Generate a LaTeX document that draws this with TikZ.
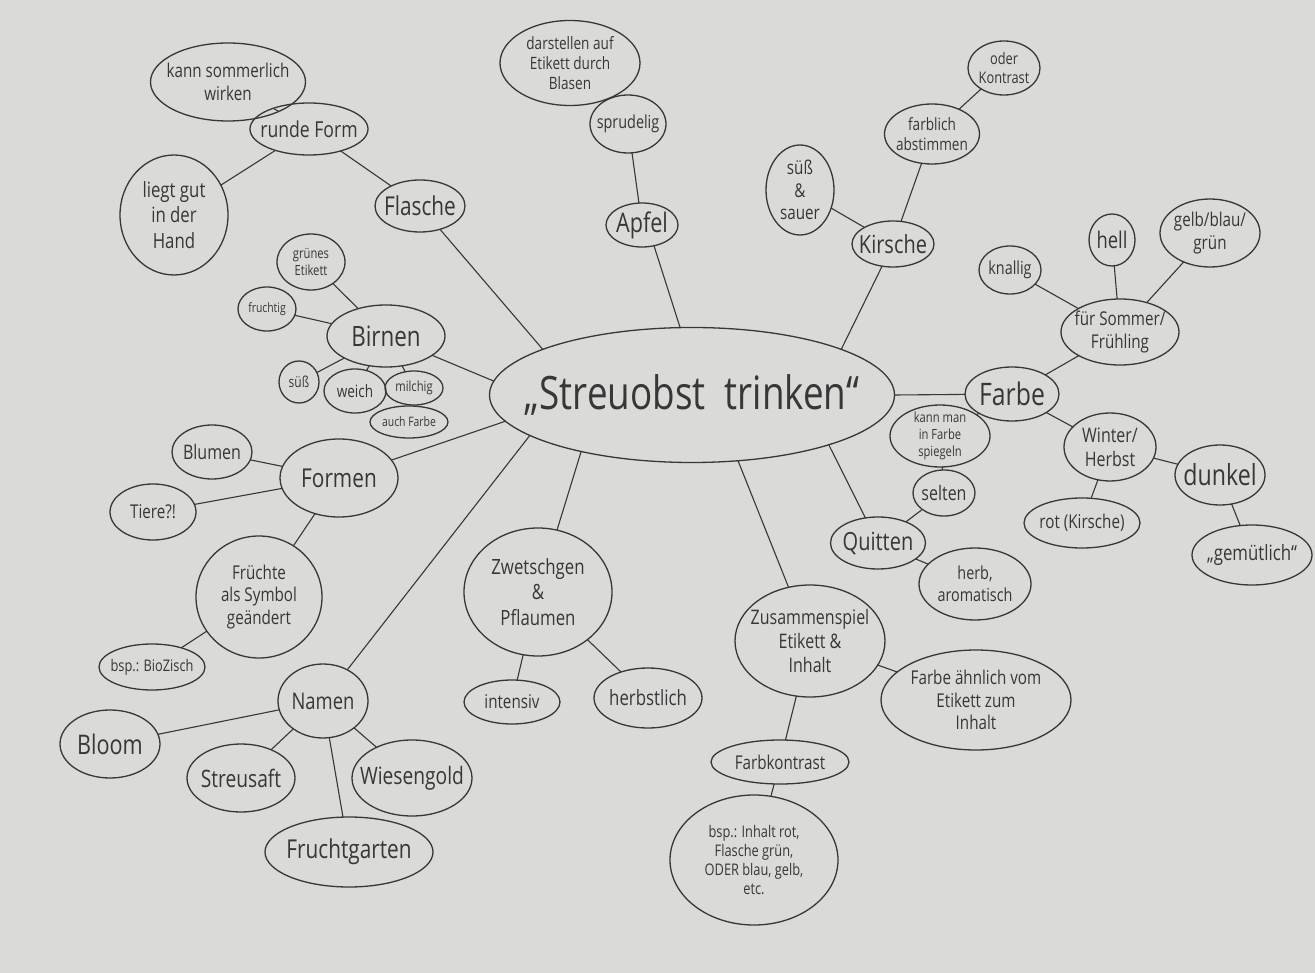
\documentclass[tikz,border=0pt]{standalone}
\usepackage{fontspec}
\setmainfont{Open Sans}[FakeStretch=0.8]
\usetikzlibrary{shapes.geometric}
\definecolor{paper}{RGB}{218,218,216}
\definecolor{ink}{RGB}{55,55,55}
\newcommand\fsz[1]{\fontsize{#1pt}{\the\dimexpr #1pt*6/5\relax}\selectfont}
\tikzset{
  bl/.style 2 args={draw=ink, line width=1.3pt, ellipse, minimum width=#1pt, minimum height=#2pt, inner sep=0pt, outer sep=0pt},
  tx/.style={font=\fsz{#1}, align=center, text=ink, inner sep=0pt},
  con/.style={draw=ink, line width=1.1pt},
}
\begin{document}
\begin{tikzpicture}[x=1pt,y=-1pt]
\fill[paper] (0,0) rectangle (1315,973);
\useasboundingbox (0,0) rectangle (1315,973);
% centre
\node[bl={405}{135}, label={[tx=46]center:{„Streuobst\ \ trinken“}}] (central) at (692,395) {};
% Flasche branch
\node[bl={90}{52}, label={[tx=26]center:{Flasche}}] (flasche) at (420,206) {};
\node[bl={118}{52}, label={[tx=22]center:{runde Form}}] (runde) at (309,129) {};
\node[bl={155}{78}, label={[tx=19]center:{kann sommerlich\\wirken}}] (sommerlich) at (228,82) {};
\node[bl={108}{120}, label={[tx=21]center:{liegt gut\\in der\\Hand}}] (liegt) at (174,215) {};
% Apfel branch
\node[bl={72}{44}, label={[tx=27]center:{Apfel}}] (apfel) at (642,225) {};
\node[bl={76}{58}, label={[tx=18]center:{sprudelig}}] (sprudelig) at (628,124) {};
\node[bl={140}{85}, label={[tx=17]center:{darstellen auf\\Etikett durch\\Blasen}}] (darstellen) at (570,63) {};
% Kirsche branch
\node[bl={82}{46}, label={[tx=25]center:{Kirsche}}] (kirsche) at (893,244) {};
\node[bl={68}{90}, label={[tx=19]center:{süß\\\&\\sauer}}] (suesssauer) at (800,190) {};
\node[bl={95}{60}, label={[tx=17]center:{farblich\\abstimmen}}] (farblich) at (932,134) {};
\node[bl={72}{54}, label={[tx=16]center:{oder\\Kontrast}}] (oder) at (1004,68) {};
% Farbe branch
\node[bl={94}{54}, label={[tx=31]center:{Farbe}}] (farbe) at (1012,394) {};
\node[bl={118}{66}, label={[tx=19]center:{für Sommer/\\Frühling}}] (sommer) at (1120,332) {};
\node[bl={62}{48}, label={[tx=18]center:{knallig}}] (knallig) at (1010,270) {};
\node[bl={46}{52}, label={[tx=23]center:{hell}}] (hell) at (1112,240) {};
\node[bl={100}{68}, label={[tx=19]center:{gelb/blau/\\grün}}] (gelb) at (1210,233) {};
\node[bl={92}{68}, label={[tx=20]center:{Winter/\\Herbst}}] (winter) at (1110,447) {};
\node[bl={116}{50}, label={[tx=19]center:{rot (Kirsche)}}] (rot) at (1082,523) {};
\node[bl={90}{60}, label={[tx=29]center:{dunkel}}] (dunkel) at (1220,475) {};
\node[bl={120}{60}, label={[tx=21]center:{„gemütlich“}}] (gemuetlich) at (1252,555) {};
\node[bl={100}{62}, label={[tx=14]center:{kann man\\in Farbe\\spiegeln}}] (kannman) at (940,436) {};
% Quitten branch
\node[bl={62}{46}, label={[tx=20]center:{selten}}] (selten) at (944,493) {};
\node[bl={95}{52}, label={[tx=25]center:{Quitten}}] (quitten) at (878,543) {};
\node[bl={112}{72}, label={[tx=18]center:{herb,\\aromatisch}}] (herb) at (975,584) {};
% Zusammenspiel branch
\node[bl={150}{112}, label={[tx=20]center:{Zusammenspiel\\Etikett \&\\Inhalt}}] (zusammen) at (810,641) {};
\node[bl={190}{100}, label={[tx=19]center:{Farbe ähnlich vom\\Etikett zum\\Inhalt}}] (aehnlich) at (976,700) {};
\node[bl={138}{44}, label={[tx=19]center:{Farbkontrast}}] (kontrast) at (780,762) {};
\node[bl={168}{130}, label={[tx=16]center:{bsp.: Inhalt rot,\\Flasche grün,\\ODER blau, gelb,\\etc.}}] (bsp) at (754,860) {};
% Zwetschgen branch
\node[bl={148}{128}, label={[tx=21]center:{Zwetschgen\\\&\\Pflaumen}}] (zwetschgen) at (538,592) {};
\node[bl={96}{44}, label={[tx=19]center:{intensiv}}] (intensiv) at (512,702) {};
\node[bl={108}{60}, label={[tx=21]center:{herbstlich}}] (herbstlich) at (648,698) {};
% Birnen branch
\node[bl={118}{62}, label={[tx=28]center:{Birnen}}] (birnen) at (386,336) {};
\node[bl={68}{56}, label={[tx=14]center:{grünes\\Etikett}}] (gruenes) at (311,262) {};
\node[bl={58}{44}, label={[tx=13]center:{fruchtig}}] (fruchtig) at (267,309) {};
\node[bl={40}{42}, label={[tx=15]center:{süß}}] (suess) at (299,382) {};
\node[bl={62}{44}, label={[tx=17]center:{weich}}] (weich) at (355,391) {};
\node[bl={58}{34}, label={[tx=14]center:{milchig}}] (milchig) at (414,388) {};
\node[bl={78}{32}, label={[tx=13]center:{auch Farbe}}] (auchfarbe) at (409,422) {};
% Formen branch
\node[bl={118}{78}, label={[tx=26]center:{Formen}}] (formen) at (339,478) {};
\node[bl={80}{54}, label={[tx=20]center:{Blumen}}] (blumen) at (212,452) {};
\node[bl={86}{56}, label={[tx=19]center:{Tiere?!}}] (tiere) at (153,512) {};
\node[bl={126}{122}, label={[tx=19]center:{Früchte\\als Symbol\\geändert}}] (fruechte) at (259,597) {};
\node[bl={106}{46}, label={[tx=16]center:{bsp.: BioZisch}}] (biozisch) at (152,667) {};
% Namen branch
\node[bl={90}{74}, label={[tx=23]center:{Namen}}] (namen) at (323,701) {};
\node[bl={100}{68}, label={[tx=27]center:{Bloom}}] (bloom) at (110,744) {};
\node[bl={108}{68}, label={[tx=24]center:{Streusaft}}] (streusaft) at (241,778) {};
\node[bl={120}{76}, label={[tx=24]center:{Wiesengold}}] (wiesengold) at (412,778) {};
\node[bl={168}{70}, label={[tx=26]center:{Fruchtgarten}}] (fruchtgarten) at (349,852) {};
% connectors
\draw[con] (central.163) -- (flasche);
\draw[con] (flasche) -- (runde);
\draw[con] (runde) -- (sommerlich);
\draw[con] (runde) -- (liegt);
\draw[con] (central.100) -- (apfel.-60);
\draw[con] (apfel) -- (sprudelig);
\draw[con] (sprudelig) -- (darstellen);
\draw[con] (central.17) -- (kirsche);
\draw[con] (kirsche) -- (suesssauer);
\draw[con] (kirsche) -- (farblich);
\draw[con] (farblich) -- (oder);
\draw[con] (central.0) -- (farbe);
\draw[con] (farbe) -- (sommer);
\draw[con] (sommer) -- (knallig);
\draw[con] (sommer) -- (hell);
\draw[con] (sommer) -- (gelb);
\draw[con] (farbe) -- (winter);
\draw[con] (winter) -- (rot);
\draw[con] (winter) -- (dunkel);
\draw[con] (dunkel) -- (gemuetlich);
\draw[con] (farbe) -- (kannman);
\draw[con] (kannman) -- (selten);
\draw[con] (selten) -- (quitten);
\draw[con] (central.-20) -- (quitten);
\draw[con] (quitten) -- (herb);
\draw[con] (central.-55) -- (zusammen);
\draw[con] (zusammen) -- (aehnlich);
\draw[con] (zusammen) -- (kontrast);
\draw[con] (kontrast) -- (bsp);
\draw[con] (central.-153) -- (zwetschgen);
\draw[con] (zwetschgen) -- (intensiv);
\draw[con] (zwetschgen) -- (herbstlich);
\draw[con] (central.176) -- (birnen);
\draw[con] (birnen) -- (gruenes);
\draw[con] (birnen) -- (fruchtig);
\draw[con] (birnen) -- (suess);
\draw[con] (birnen) -- (weich);
\draw[con] (birnen) -- (milchig);
\draw[con] (central.188) -- (formen);
\draw[con] (formen) -- (blumen);
\draw[con] (formen) -- (tiere);
\draw[con] (formen) -- (fruechte);
\draw[con] (fruechte) -- (biozisch);
\draw[con] (central.194) -- (namen);
\draw[con] (namen) -- (bloom);
\draw[con] (namen) -- (streusaft);
\draw[con] (namen) -- (fruchtgarten);
\draw[con] (namen) -- (wiesengold);
\end{tikzpicture}
\end{document}
